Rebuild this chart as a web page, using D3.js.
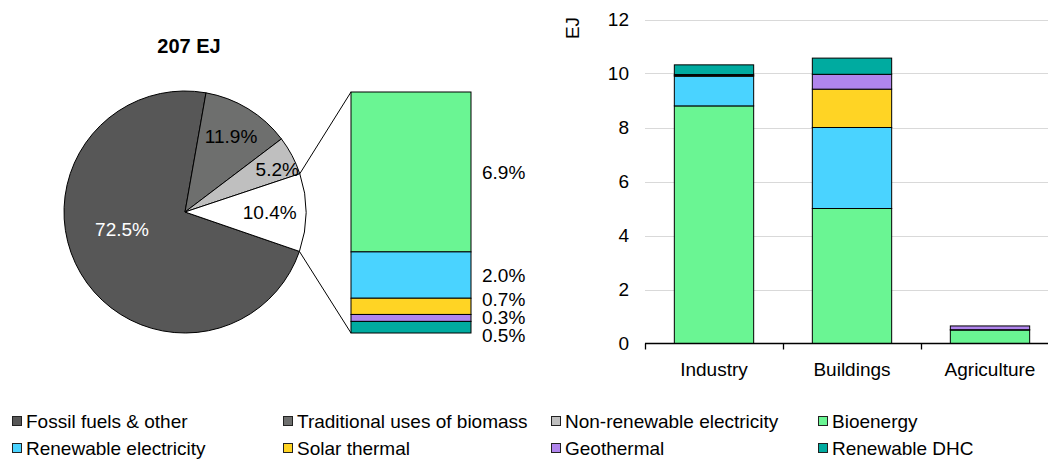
<!DOCTYPE html>
<html>
<head>
<meta charset="utf-8">
<script src="https://cdn.jsdelivr.net/npm/d3@7"></script>
<style>
  html, body { margin: 0; padding: 0; background: #fff; }
  svg { display: block; font-family: "Liberation Sans", Arial, sans-serif; }
</style>
</head>
<body>
<svg id="chart" width="1048" height="459"></svg>
<script>
// ---------- DATA ----------
const pieTitle = "207 EJ";
const pieCategories = ["Fossil fuels & other", "Traditional uses of biomass", "Non-renewable electricity", "Modern renewables"];
const pieShares = [72.5, 11.9, 5.2, 10.4];

const renewableTypes = ["Bioenergy", "Renewable electricity", "Solar thermal", "Geothermal", "Renewable DHC"];
const renewableShares = [6.9, 2.0, 0.7, 0.3, 0.5];

const sectors = ["Industry", "Buildings", "Agriculture"];
const bioenergy = [8.8, 5.0, 0.5];
const renewableElectricity = [1.1, 3.0, 0.0];
const solarThermal = [0.03, 1.42, 0.01];
const geothermal = [0.03, 0.55, 0.14];
const renewableDHC = [0.36, 0.6, 0.0];
const yTicks = [0, 2, 4, 6, 8, 10, 12];

const legendLabels = ["Fossil fuels & other", "Traditional uses of biomass", "Non-renewable electricity", "Bioenergy",
                      "Renewable electricity", "Solar thermal", "Geothermal", "Renewable DHC"];

// ---------- STYLE ----------
const pieColors = ["#575757", "#6e6f6e", "#bfbfbf", "#ffffff"];
const renewColors = ["#6af593", "#4ad3ff", "#ffd424", "#b085ed", "#00aba0"];
const legendColors = pieColors.slice(0, 3).concat(renewColors);
const FONT = 19;

const svg = d3.select("#chart");

// ---------- PIE ----------
const cx = 185, cy = 212, R = 121;
const startDeg = 109;
const pie = d3.pie().sort(null).value(d => d)
  .startAngle(startDeg * Math.PI / 180)
  .endAngle(startDeg * Math.PI / 180 + 2 * Math.PI);
const arcs = pie(pieShares);
const arc = d3.arc().innerRadius(0).outerRadius(R);
const gPie = svg.append("g").attr("transform", `translate(${cx},${cy})`);
gPie.selectAll("path").data(arcs).enter().append("path")
  .attr("d", arc)
  .attr("fill", (d, i) => pieColors[i])
  .attr("stroke", "#000").attr("stroke-width", 1);

// label placement: radius factor and angle shift (degrees) per slice
const labelPlace = [{r: 0.54, da: 15}, {r: 0.73, da: 0}, {r: 0.84, da: 3}, {r: 0.70, da: 0}];
gPie.selectAll("text.pl").data(arcs).enter().append("text")
  .attr("class", "pl")
  .attr("x", (d, i) => {
    const a = (d.startAngle + d.endAngle) / 2 + labelPlace[i].da * Math.PI / 180;
    return Math.sin(a) * R * labelPlace[i].r;
  })
  .attr("y", (d, i) => {
    const a = (d.startAngle + d.endAngle) / 2 + labelPlace[i].da * Math.PI / 180;
    return -Math.cos(a) * R * labelPlace[i].r;
  })
  .attr("dy", "0.35em")
  .attr("text-anchor", "middle")
  .attr("font-size", FONT)
  .attr("fill", (d, i) => i === 0 ? "#fff" : "#000")
  .text(d => d.data.toFixed(1) + "%");

svg.append("text")
  .attr("x", 189).attr("y", 46).attr("dy", "0.35em")
  .attr("text-anchor", "middle").attr("font-size", 20).attr("font-weight", "bold")
  .text(pieTitle);

// ---------- BAR OF PIE ----------
const bx0 = 351, bx1 = 471, byTop = 92, byBot = 333;
const totalRenew = d3.sum(renewableShares);
const yBop = d3.scaleLinear().domain([0, totalRenew]).range([byTop, byBot]);
let acc = 0;
const bopSegs = renewableShares.map((v, i) => {
  const s = {y0: acc, y1: acc + v, v: v, i: i};
  acc += v;
  return s;
});
svg.append("g").selectAll("rect").data(bopSegs).enter().append("rect")
  .attr("x", bx0).attr("width", bx1 - bx0)
  .attr("y", d => yBop(d.y0)).attr("height", d => yBop(d.y1) - yBop(d.y0))
  .attr("fill", d => renewColors[d.i])
  .attr("stroke", "#000").attr("stroke-width", 1);

// label positions with simple overlap relaxation
const labY = bopSegs.map(d => (yBop(d.y0) + yBop(d.y1)) / 2);
const gap = 18;
for (let it = 0; it < 200; it++) {
  for (let i = 1; i < labY.length; i++) {
    const diff = labY[i] - labY[i - 1];
    if (diff < gap) {
      const s = (gap - diff) / 2;
      labY[i - 1] -= s; labY[i] += s;
    }
  }
}
svg.append("g").selectAll("text").data(bopSegs).enter().append("text")
  .attr("x", 482).attr("y", (d, i) => labY[i]).attr("dy", "0.35em")
  .attr("font-size", FONT)
  .text(d => d.v.toFixed(1) + "%");

// connector lines from the renewable slice edge to the bar
const wSlice = arcs[3];
const pA = [cx + Math.sin(wSlice.startAngle) * R, cy - Math.cos(wSlice.startAngle) * R];
const pB = [cx + Math.sin(wSlice.endAngle) * R, cy - Math.cos(wSlice.endAngle) * R];
svg.append("line").attr("x1", pA[0]).attr("y1", pA[1]).attr("x2", bx0).attr("y2", byTop)
  .attr("stroke", "#000").attr("stroke-width", 1);
svg.append("line").attr("x1", pB[0]).attr("y1", pB[1]).attr("x2", bx0).attr("y2", byBot)
  .attr("stroke", "#000").attr("stroke-width", 1);

// ---------- STACKED BARS ----------
const xL = 645, band = 138;
const x = d3.scaleBand().domain(sectors).range([xL, xL + band * sectors.length]).paddingInner(0.425).paddingOuter(0.2125);
const y = d3.scaleLinear().domain([0, 12]).range([343.5, 19.5]);

const gGrid = svg.append("g");
gGrid.selectAll("line").data(yTicks.filter(t => t > 0)).enter().append("line")
  .attr("x1", xL).attr("x2", 1048)
  .attr("y1", d => Math.round(y(d)) + 0.5).attr("y2", d => Math.round(y(d)) + 0.5)
  .attr("stroke", "#d9d9d9").attr("stroke-width", 1.2);

svg.append("g").selectAll("text").data(yTicks).enter().append("text")
  .attr("x", 629).attr("y", d => y(d)).attr("dy", "0.35em")
  .attr("text-anchor", "end").attr("font-size", FONT)
  .text(d => d);

svg.append("text")
  .attr("transform", "translate(572,28) rotate(-90)")
  .attr("text-anchor", "middle").attr("dy", "0.35em").attr("font-size", FONT)
  .text("EJ");

const seriesArrays = [bioenergy, renewableElectricity, solarThermal, geothermal, renewableDHC];
const tableRows = sectors.map((s, j) => {
  const row = {sector: s};
  renewableTypes.forEach((k, i) => { row[k] = seriesArrays[i][j]; });
  return row;
});
const stack = d3.stack().keys(renewableTypes)(tableRows);
const gBars = svg.append("g");
stack.forEach((layer, i) => {
  gBars.selectAll(null).data(layer.filter(d => d[1] - d[0] > 0)).enter().append("rect")
    .attr("x", d => x(d.data.sector))
    .attr("width", x.bandwidth())
    .attr("y", d => y(d[1]))
    .attr("height", d => y(d[0]) - y(d[1]))
    .attr("fill", renewColors[i])
    .attr("stroke", "#000").attr("stroke-width", 1);
});

// x axis
const gx = svg.append("g");
gx.append("line").attr("x1", xL).attr("x2", 1048).attr("y1", 343.5).attr("y2", 343.5)
  .attr("stroke", "#000").attr("stroke-width", 1.3);
gx.selectAll("line.tick").data(d3.range(sectors.length + 1)).enter().append("line")
  .attr("class", "tick")
  .attr("x1", i => xL + i * band + 0.5).attr("x2", i => xL + i * band + 0.5)
  .attr("y1", 343.5).attr("y2", 349.5)
  .attr("stroke", "#000").attr("stroke-width", 1.3);
gx.selectAll("text").data(sectors).enter().append("text")
  .attr("x", d => x(d) + x.bandwidth() / 2).attr("y", 369).attr("dy", "0.35em")
  .attr("text-anchor", "middle").attr("font-size", FONT)
  .text(d => d);

// ---------- LEGEND ----------
const legCols = [12, 283, 551, 818];
const legRows = [421, 448];
const gLeg = svg.append("g");
legendLabels.forEach((lab, i) => {
  const cxL = legCols[i % 4], cyL = legRows[Math.floor(i / 4)];
  gLeg.append("rect").attr("x", cxL + 0.5).attr("y", cyL - 4.5).attr("width", 9).attr("height", 9)
    .attr("fill", legendColors[i]).attr("stroke", "#222").attr("stroke-width", 1);
  gLeg.append("text").attr("x", cxL + 14).attr("y", cyL).attr("dy", "0.35em")
    .attr("font-size", FONT).text(lab);
});
</script>
</body>
</html>
